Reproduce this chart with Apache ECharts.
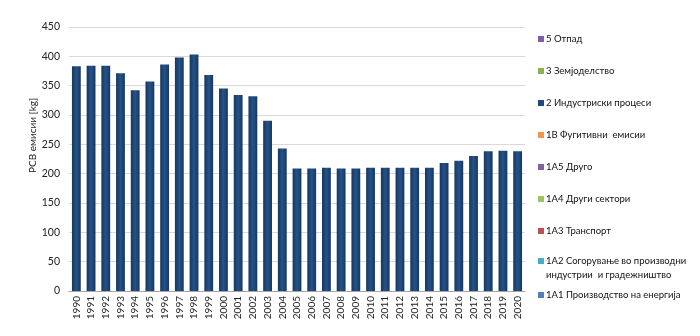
<!DOCTYPE html>
<html><head><meta charset="utf-8">
<script src="https://cdn.jsdelivr.net/npm/echarts@6/dist/echarts.min.js"></script>
<style>html,body{margin:0;padding:0;background:#fff}#c{width:700px;height:336px}</style>
</head><body><div id="c"></div>
<script>
const years = ["1990","1991","1992","1993","1994","1995","1996","1997","1998","1999","2000","2001","2002","2003","2004","2005","2006","2007","2008","2009","2010","2011","2012","2013","2014","2015","2016","2017","2018","2019","2020"];
const industrial = [383,384,384,371,342,357,386,398,403,368,345,334,332,290,243,209,209,210,209,209,210,210,210,210,210,218,222,230,238,239,238];
const zeros = years.map(() => 0);
const legendNames = ["5 Отпад","3 Земјоделство","2 Индустриски процеси","1B Фугитивни  емисии","1A5 Друго","1A4 Други сектори","1A3 Транспорт","1A2 Согорување во производни\nиндустрии  и градежништво","1A1 Производство на енергија"];
const legendColors = ["#7f5fa9","#8db04f","#1f497d","#f79646","#8064a2","#a4c25d","#c0504d","#4bacc6","#4f81bd"];
const legendTops = [27,59,91,123,155,187,219,249,283];
const yTicks = [0,50,100,150,200,250,300,350,400,450];
const FONT = 'Lato';

const chart = echarts.init(document.getElementById('c'));
const seriesNames = legendNames.slice().reverse();
const seriesColors = legendColors.slice().reverse();
const series = seriesNames.map((n, i) => ({
  name: n, type: 'bar', stack: 's', barWidth: '60%',
  data: n === "2 Индустриски процеси" ? industrial : zeros,
  itemStyle: {
    color: n === "2 Индустриски процеси" ? new echarts.graphic.LinearGradient(0,0,1,0,[
      {offset:0,color:'#17375e'},{offset:0.5,color:'#24538a'},{offset:1,color:'#17375e'}]) : seriesColors[i]
  }
}));

chart.setOption({
  animation: false,
  grid: {left: 69, right: 175, top: 27, bottom: 45},
  xAxis: {
    type: 'category', data: years,
    axisLine: {lineStyle: {color: '#a6a6a6'}},
    axisTick: {show: false},
    axisLabel: {rotate: 90, fontSize: 10, color: '#222', fontFamily: FONT, margin: 5}
  },
  yAxis: {
    type: 'value', min: yTicks[0], max: yTicks[yTicks.length-1], interval: 50,
    axisLine: {show: false}, axisTick: {show: false},
    splitLine: {lineStyle: {color: '#d9d9d9'}},
    axisLabel: {fontSize: 10.5, color: '#222', fontFamily: FONT, margin: 9}
  },
  legend: legendNames.map((n, i) => {
    const twoLine = n.indexOf('\n') >= 0;
    return {
      data: [{name: n, itemStyle: {color: legendColors[i]}}],
      left: 533, top: legendTops[i], orient: 'vertical',
      itemWidth: 6, itemHeight: twoLine ? 20 : 6, itemGap: 0,
      icon: twoLine ? 'path://M0,0L6,0L6,6L0,6Z M0,20' : 'rect',
      selectedMode: false,
      textStyle: {fontSize: 9.5, color: '#111', fontFamily: FONT, lineHeight: 14, padding: [0,0,0,-3]}
    };
  }),
  graphic: [{
    type: 'text', left: 28, top: 98, rotation: Math.PI/2,
    style: {text: 'PCB емисии [kg]', fontSize: 10, fill: '#222', fontFamily: FONT}
  }],
  series: series
});
</script></body></html>
